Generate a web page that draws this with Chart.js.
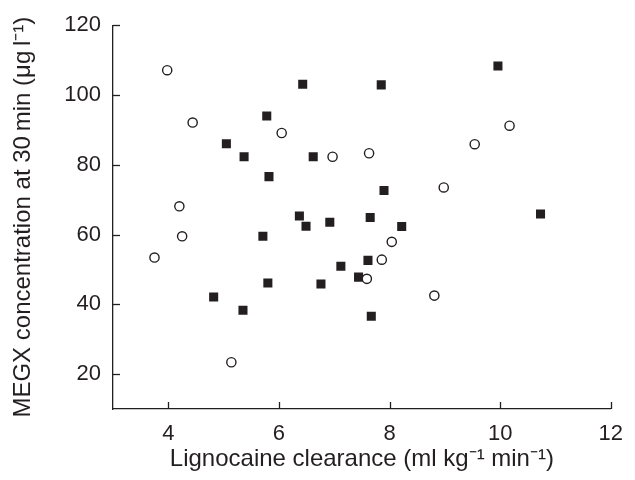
<!DOCTYPE html>
<html>
<head>
<meta charset="utf-8">
<script src="https://cdn.jsdelivr.net/npm/chart.js@4"></script>
<style>
  html, body { margin: 0; padding: 0; background: #fff; }
  #wrap { width: 635px; height: 480px; }
</style>
</head>
<body>
<div id="wrap"><canvas id="grafico"></canvas></div>
<script>
// open circles
const clearanceOpen = [3.98, 4.44, 6.05, 6.97, 7.63, 10.17, 9.54, 8.98, 4.20, 4.25, 3.75, 7.59, 5.14, 8.04, 7.86, 8.81];
const megxOpen      = [107.1, 92.1, 89.1, 82.3, 83.3, 91.2, 85.9, 73.5, 68.1, 59.5, 53.4, 47.3, 23.4, 57.9, 52.8, 42.5];

// filled squares
const clearanceFilled = [6.43, 5.78, 5.05, 5.37, 6.62, 5.82, 9.96, 7.85, 7.90, 10.73, 6.37, 6.49, 6.92, 7.65, 5.71, 7.61, 7.12, 7.44, 5.80, 6.76, 4.82, 5.35, 7.67, 8.22];
const megxFilled      = [103.1, 94.0, 86.0, 82.3, 82.3, 76.6, 108.3, 102.9, 72.6, 65.9, 65.3, 62.4, 63.5, 64.9, 59.5, 52.6, 50.9, 47.8, 46.1, 45.8, 42.1, 38.3, 36.6, 62.3];

const xTicks = [4, 6, 8, 10, 12];
const yTicks = [20, 40, 60, 80, 100, 120];

const cor = "#231f20";
const fonte = "'Liberation Sans', Arial, sans-serif";

// monta os pontos
function pares(xs, ys) {
  return xs.map((v, i) => ({ x: v, y: ys[i] }));
}

// ticks para dentro do gráfico
const ticksInternos = {
  id: "ticksInternos",
  afterDatasetsDraw(chart) {
    const { ctx, chartArea, scales } = chart;
    ctx.save();
    ctx.strokeStyle = cor;
    ctx.lineWidth = 1.3;
    scales.x.ticks.forEach((t) => {
      const px = Math.round(scales.x.getPixelForValue(t.value)) + 0.5;
      ctx.beginPath();
      ctx.moveTo(px, chartArea.bottom);
      ctx.lineTo(px, chartArea.bottom - 7);
      ctx.stroke();
    });
    scales.y.ticks.forEach((t) => {
      const py = Math.round(scales.y.getPixelForValue(t.value)) + 0.5;
      ctx.beginPath();
      ctx.moveTo(chartArea.left, py);
      ctx.lineTo(chartArea.left + 7, py);
      ctx.stroke();
    });
    ctx.restore();
  },
};

new Chart(document.getElementById("grafico"), {
  type: "scatter",
  data: {
    datasets: [
      {
        label: "open",
        data: pares(clearanceOpen, megxOpen),
        pointStyle: "circle",
        pointRadius: 4.6,
        pointBorderWidth: 1.4,
        pointBackgroundColor: "#ffffff",
        pointBorderColor: cor,
      },
      {
        label: "filled",
        data: pares(clearanceFilled, megxFilled),
        pointStyle: "rect",
        pointRadius: 6.4,
        pointBorderWidth: 0,
        pointBackgroundColor: cor,
        pointBorderColor: cor,
      },
    ],
  },
  options: {
    responsive: true,
    maintainAspectRatio: false,
    animation: false,
    events: [],
    layout: { padding: { top: 24, right: 15, left: 0, bottom: 0 } },
    plugins: { legend: { display: false }, tooltip: { enabled: false } },
    scales: {
      x: {
        type: "linear",
        min: 3,
        max: 12,
        afterBuildTicks: (s) => { s.ticks = xTicks.map((v) => ({ value: v })); },
        afterFit: (s) => { s.height = 71; },
        grid: { drawOnChartArea: false, drawTicks: false },
        border: { display: true, color: cor, width: 1.3 },
        ticks: { color: cor, padding: 12, font: { family: fonte, size: 22 } },
        title: {
          display: true,
          text: "Lignocaine clearance (ml kg\u207B\u00B9 min\u207B\u00B9)",
          color: cor,
          font: { family: fonte, size: 24 },
          padding: { top: 0, bottom: 6 },
        },
      },
      y: {
        type: "linear",
        min: 10,
        max: 120,
        afterBuildTicks: (s) => { s.ticks = yTicks.map((v) => ({ value: v })); },
        afterFit: (s) => { s.width = 113; },
        grid: { drawOnChartArea: false, drawTicks: false },
        border: { display: true, color: cor, width: 1.3 },
        ticks: { color: cor, padding: 12, font: { family: fonte, size: 22 } },
        title: {
          display: true,
          text: "MEGX concentration at 30\u2009min (\u03BCg\u2009l\u207B\u00B9)",
          color: cor,
          font: { family: fonte, size: 24 },
          padding: { top: 9, bottom: 0 },
        },
      },
    },
  },
  plugins: [ticksInternos],
});
</script>
</body>
</html>
